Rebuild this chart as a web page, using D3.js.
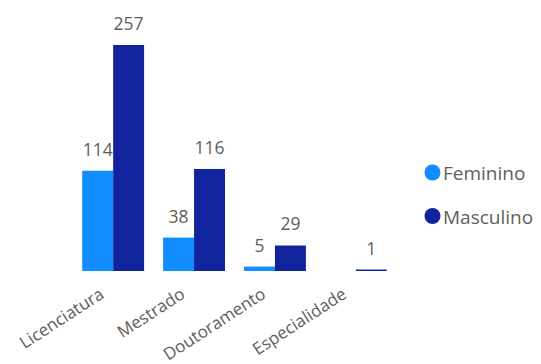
<!DOCTYPE html>
<html><head><meta charset="utf-8">
<script src="https://cdn.jsdelivr.net/npm/d3@7"></script>
<style>
html,body{margin:0;padding:0;background:#fff;}
svg{display:block;}
svg text{font-family:'Open Sans','Noto Sans',sans-serif;}
</style></head>
<body>
<svg id="chart" width="541" height="364"></svg>
<script>
const categories = ["Licenciatura", "Mestrado", "Doutoramento", "Especialidade"];
const seriesNames = ["Feminino", "Masculino"];
const feminino = [114, 38, 5, null];
const masculino = [257, 116, 29, 1];
const colors = ["#118DFF", "#12239E"];

const FONT = "'Open Sans','Noto Sans',sans-serif";
const svg = d3.select("#chart");
const baseY = 271, topY = 45;

const x0 = d3.scaleBand().domain(categories).range([72.5, 396.5]).paddingInner(0.235).paddingOuter(0.12);
const x1 = d3.scaleBand().domain(seriesNames).range([0, x0.bandwidth()]).padding(0);
const y = d3.scaleLinear().domain([0, 257]).range([baseY, topY]);

const seriesVals = [feminino, masculino];
const data = [];
categories.forEach((c, i) => {
  seriesNames.forEach((s, j) => {
    const v = seriesVals[j][i];
    if (v != null) data.push({cat: c, series: s, value: v, color: colors[j]});
  });
});

const g = svg.append("g");
g.selectAll("rect.bar").data(data).join("rect")
  .attr("class", "bar")
  .attr("x", d => x0(d.cat) + x1(d.series))
  .attr("width", x1.bandwidth())
  .attr("y", d => Math.min(y(d.value), baseY - 1.5))
  .attr("height", d => Math.max(baseY - y(d.value), 1.5))
  .attr("fill", d => d.color);

g.selectAll("text.val").data(data).join("text")
  .attr("class", "val")
  .attr("x", d => x0(d.cat) + x1(d.series) + x1.bandwidth() / 2)
  .attr("y", d => y(d.value) - 15)
  .attr("text-anchor", "middle")
  .attr("font-family", FONT)
  .attr("font-size", 17.5)
  .attr("fill", "#605E5C")
  .text(d => d.value);

const axis = svg.append("g")
  .attr("transform", `translate(0,${baseY})`)
  .call(d3.axisBottom(x0).tickSize(0))
  .attr("font-family", FONT)
  .attr("font-size", 17);
axis.select(".domain").remove();
axis.selectAll("text")
  .attr("fill", "#605E5C")
  .attr("y", 0).attr("dy", 0)
  .attr("text-anchor", "end")
  .attr("transform", "translate(-8,26) rotate(-33)");

const legend = svg.append("g");
seriesNames.forEach((s, i) => {
  const ly = 172.5 + i * 43.5;
  legend.append("circle").attr("cx", 432.5).attr("cy", ly).attr("r", 8).attr("fill", colors[i]);
  legend.append("text").attr("x", 443).attr("y", ly + 7.5)
    .attr("font-family", FONT)
    .attr("font-size", 19).attr("fill", "#605E5C").text(s);
});
</script>
</body></html>
